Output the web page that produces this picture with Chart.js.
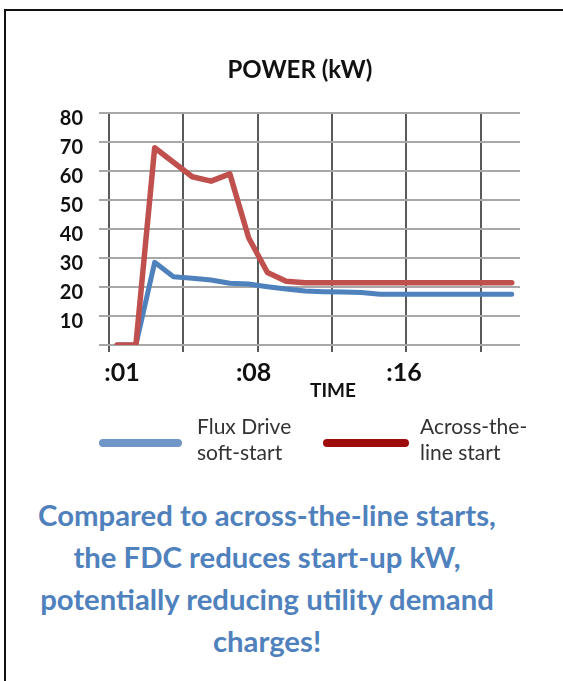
<!DOCTYPE html>
<html><head><meta charset="utf-8">
<script src="https://cdn.jsdelivr.net/npm/chart.js@4.4.1/dist/chart.umd.min.js"></script>
<style>
html,body{margin:0;padding:0;background:#fff;width:563px;height:681px;overflow:hidden;position:relative;font-family:Lato,sans-serif;}
#frameTop{position:absolute;left:4px;top:9px;width:559px;height:2px;background:#111;}
#frameLeft{position:absolute;left:4px;top:9px;width:2px;height:672px;background:#111;}
#wrap{position:absolute;left:0;top:0;width:563px;height:470px;}
#caption{position:absolute;left:0;top:494px;width:534px;text-align:center;color:#4f81bd;font:bold 29.3px/42px Lato,sans-serif;white-space:nowrap;}
</style></head><body>
<div id="frameTop"></div>
<div id="frameLeft"></div>
<div id="wrap"><canvas id="c" width="563" height="470"></canvas></div>
<div id="caption">Compared to across-the-line starts,<br>the FDC reduces start-up kW,<br>potentially reducing utility demand<br>charges!</div>
<script>
// ---- data ----
const timeSeconds   = [1, 2, 3, 4, 5, 6, 7, 8, 9, 10, 11, 12, 13, 14, 15, 16, 17, 18, 19, 20, 21, 22];
const acrossLineKW  = [0, 0, 68, 63, 58, 56.5, 59, 37, 25, 22, 21.5, 21.5, 21.5, 21.5, 21.5, 21.5, 21.5, 21.5, 21.5, 21.5, 21.5, 21.5];
const fluxDriveKW   = [0, 0, 28.5, 23.5, 23, 22.4, 21.3, 21, 20.1, 19.3, 18.6, 18.4, 18.3, 18.1, 17.5, 17.5, 17.5, 17.5, 17.5, 17.5, 17.5, 17.5];
const seriesNames   = ['Flux Drive soft-start', 'Across-the-line start'];
const legendLines   = [['Flux Drive', 'soft-start'], ['Across-the-', 'line start']];
const xLabelTimes   = [1, 8, 16];
const xTickLabels   = [':01', ':08', ':16'];
const xGridTimes    = [0.57, 4.52, 8.48, 12.44, 16.4, 20.36];
const yTickValues   = [0, 10, 20, 30, 40, 50, 60, 70, 80];
const chartTitle    = 'POWER (kW)';
const xAxisTitle    = 'TIME';

const X_MIN = 0.57, X_MAX = 22.44;
const FONT = 'Lato';

const pts = (ys) => timeSeconds.map((t, i) => ({x: t, y: ys[i]}));

const legendPlugin = {
  id: 'sideLegend',
  afterDraw(chart, args, opts) {
    const ctx = chart.ctx;
    const base = chart.scales.x2.bottom;
    const left = chart.chartArea.left;
    const lineY = base + 41;
    opts.items.forEach((it, i) => {
      ctx.save();
      ctx.strokeStyle = it.color;
      ctx.lineWidth = 8;
      ctx.lineCap = 'round';
      ctx.beginPath();
      ctx.moveTo(left + it.x0, lineY);
      ctx.lineTo(left + it.x1, lineY);
      ctx.stroke();
      ctx.fillStyle = '#333';
      ctx.font = '21px ' + FONT;
      ctx.textBaseline = 'middle';
      ctx.textAlign = 'left';
      legendLines[i].forEach((ln, k) => {
        ctx.fillText(ln, left + it.tx, lineY - 16 + k * 26);
      });
      ctx.restore();
    });
  }
};

new Chart(document.getElementById('c'), {
  type: 'line',
  data: {
    datasets: [
      { label: seriesNames[1], data: pts(acrossLineKW), borderColor: '#c0504d', borderWidth: 5.5,
        pointRadius: 0, tension: 0, borderJoinStyle: 'round', borderCapStyle: 'round', order: 0 },
      { label: seriesNames[0], data: pts(fluxDriveKW), borderColor: '#4f81bd', borderWidth: 5,
        pointRadius: 0, tension: 0, borderJoinStyle: 'round', borderCapStyle: 'round', order: 1 }
    ]
  },
  options: {
    responsive: false,
    animation: false,
    devicePixelRatio: 1,
    layout: { padding: { left: 0, right: 43, top: 0, bottom: 68 } },
    plugins: {
      legend: { display: false },
      tooltip: { enabled: false },
      title: { display: true, fullSize: false, text: chartTitle + '     ', color: '#111',
               font: { family: FONT, size: 24, weight: 'bold' },
               padding: { top: 56, bottom: 28.2 } },
      sideLegend: { items: [
        { color: '#7096c8', x0: -6, x1: 69, tx: 88 },
        { color: '#9e0b0b', x0: 218, x1: 296, tx: 311 }
      ] }
    },
    scales: {
      x: {
        type: 'linear', position: 'bottom', weight: 0, min: X_MIN, max: X_MAX,
        afterBuildTicks: (s) => { s.ticks = xGridTimes.map(v => ({ value: v })); },
        ticks: { display: false },
        grid: { color: '#5a5a5a', lineWidth: 2, tickLength: 7, drawTicks: true },
        border: { display: false },
        afterFit: (s) => { s.height = 7; }
      },
      x2: {
        type: 'linear', position: 'bottom', weight: 1, min: X_MIN, max: X_MAX,
        afterBuildTicks: (s) => { s.ticks = xLabelTimes.map(v => ({ value: v })); },
        ticks: { callback: (v, i) => xTickLabels[i], color: '#111', padding: 6, labelOffset: 5,
                 maxRotation: 0, autoSkip: false,
                 font: { family: FONT, size: 25, weight: 'bold' } },
        grid: { display: false, drawTicks: false },
        border: { display: false },
        title: { display: true, text: '        ' + xAxisTitle, color: '#111',
                 font: { family: FONT, size: 19, weight: 'bold' }, padding: { top: 0, bottom: 0 } },
        afterFit: (s) => { s.height = 50; }
      },
      y: {
        min: 0, max: 80,
        afterBuildTicks: (s) => { s.ticks = yTickValues.map(v => ({ value: v })); },
        ticks: { callback: (v) => (v === 0 ? '' : String(v)), color: '#111', padding: 16, labelOffset: 6,
                 font: { family: FONT, size: 20, weight: 'bold' } },
        grid: { color: '#a8a8a8', lineWidth: 2, tickLength: 10 },
        border: { display: false },
        afterFit: (s) => { s.width = 109; }
      }
    }
  },
  plugins: [legendPlugin]
});
</script>
</body></html>
